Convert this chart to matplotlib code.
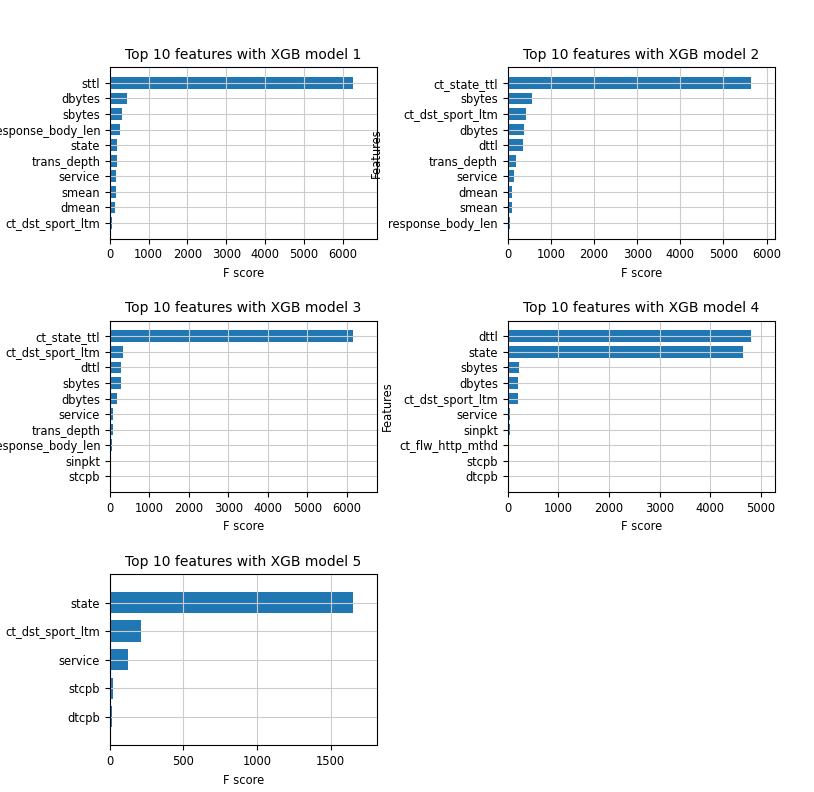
import matplotlib
matplotlib.use("Agg")
import matplotlib.pyplot as plt

# feature importances (F score), top feature first
m1_features = ["sttl", "dbytes", "sbytes", "response_body_len", "state",
               "trans_depth", "service", "smean", "dmean", "ct_dst_sport_ltm"]
m1_scores = [6260, 430, 320, 250, 190, 180, 165, 150, 140, 60]

m2_features = ["ct_state_ttl", "sbytes", "ct_dst_sport_ltm", "dbytes", "dttl",
               "trans_depth", "service", "dmean", "smean", "response_body_len"]
m2_scores = [5630, 560, 420, 370, 340, 180, 150, 100, 85, 60]

m3_features = ["ct_state_ttl", "ct_dst_sport_ltm", "dttl", "sbytes", "dbytes",
               "service", "trans_depth", "response_body_len", "sinpkt", "stcpb"]
m3_scores = [6150, 330, 290, 290, 180, 80, 70, 60, 30, 5]

m4_features = ["dttl", "state", "sbytes", "dbytes", "ct_dst_sport_ltm",
               "service", "sinpkt", "ct_flw_http_mthd", "stcpb", "dtcpb"]
m4_scores = [4800, 4650, 220, 200, 200, 40, 40, 25, 3, 2]

m5_features = ["state", "ct_dst_sport_ltm", "service", "stcpb", "dtcpb"]
m5_scores = [1650, 210, 120, 20, 15]

models = [(m1_features, m1_scores), (m2_features, m2_scores),
          (m3_features, m3_scores), (m4_features, m4_scores),
          (m5_features, m5_scores)]

plt.rcParams["font.size"] = 8.3
plt.rcParams["grid.color"] = "#cccccc"

fig, axes = plt.subplots(3, 2, figsize=(8.14, 7.92), dpi=100)
fig.subplots_adjust(left=0.135, right=0.952, top=0.915, bottom=0.059,
                    wspace=0.49, hspace=0.48)
axes = axes.flatten()

for i, (feats, scores) in enumerate(models):
    ax = axes[i]
    # plot_importance style: lowest at bottom
    f = feats[::-1]
    s = scores[::-1]
    ylocs = range(len(f))
    ax.barh(ylocs, s, height=0.75, align="center", color="#1f77b4")
    ax.set_yticks(ylocs)
    ax.set_yticklabels(f)
    ax.set_xlim(0, max(scores) * 1.1)
    ax.set_ylim(-1, len(f))
    ax.set_title("Top 10 features with XGB model %d" % (i + 1), fontsize=10)
    ax.set_xlabel("F score")
    ax.set_ylabel("Features")
    ax.grid(True)

axes[5].axis("off")

plt.savefig("out.png", dpi=100)
